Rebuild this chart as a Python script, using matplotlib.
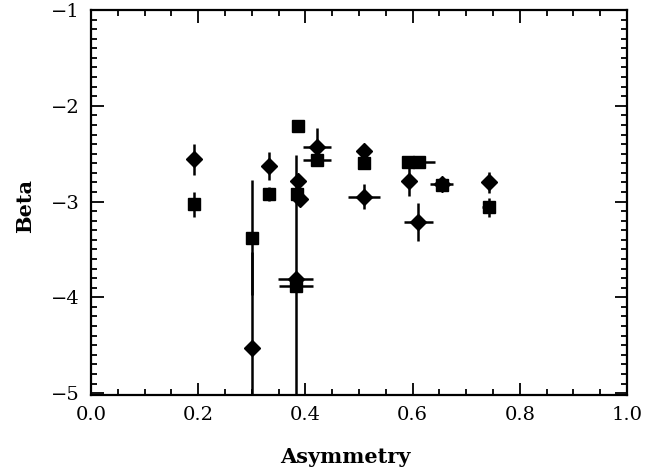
import matplotlib
matplotlib.use("Agg")
import matplotlib.pyplot as plt
from matplotlib.ticker import MultipleLocator

# Diamond series
dia_x    = [0.193, 0.332, 0.301, 0.387, 0.390, 0.382, 0.422, 0.510, 0.510, 0.593, 0.611, 0.654, 0.742]
dia_y    = [-2.56, -2.63, -4.53, -2.79, -2.97, -3.81, -2.43, -2.47, -2.95, -2.79, -3.21, -2.82, -2.80]
dia_xerr = [0.000, 0.000, 0.000, 0.000, 0.000, 0.033, 0.026, 0.000, 0.030, 0.000, 0.027, 0.022, 0.000]
dia_yerr = [0.16, 0.15, 1.00, 0.00, 0.00, 1.30, 0.20, 0.00, 0.13, 0.15, 0.20, 0.06, 0.11]

# Square series
sq_x    = [0.193, 0.332, 0.301, 0.387, 0.385, 0.382, 0.422, 0.510, 0.592, 0.612, 0.655, 0.742]
sq_y    = [-3.03, -2.92, -3.38, -2.21, -2.92, -3.88, -2.57, -2.60, -2.59, -2.59, -2.83, -3.06]
sq_xerr = [0.008, 0.010, 0.000, 0.000, 0.000, 0.032, 0.026, 0.000, 0.000, 0.030, 0.010, 0.012]
sq_yerr = [0.13, 0.07, 0.60, 0.00, 0.00, 0.00, 0.06, 0.00, 0.00, 0.00, 0.06, 0.10]

x_ticks = [0.0, 0.2, 0.4, 0.6, 0.8, 1.0]
y_ticks = [-5, -4, -3, -2, -1]

plt.rcParams['font.family'] = ['DejaVu Serif']
fig = plt.figure(figsize=(6.45, 4.71), dpi=100)
ax = fig.add_axes([91/645, 76/471, 536/645, 385/471])

ax.errorbar(dia_x, dia_y, xerr=dia_xerr, yerr=dia_yerr, fmt='D', color='black',
            markersize=8.5, elinewidth=1.8, capsize=0)
ax.errorbar(sq_x, sq_y, xerr=sq_xerr, yerr=sq_yerr, fmt='s', color='black',
            markersize=8.5, elinewidth=1.8, capsize=0)

ax.set_xlim(0, 1)
ax.set_ylim(-5.02, -1)
ax.set_xticks(x_ticks)
ax.set_xticklabels([f"{v:.1f}" for v in x_ticks])
ax.set_yticks(y_ticks)
ax.set_yticklabels(["\u2212%d" % abs(v) for v in y_ticks])
ax.xaxis.set_minor_locator(MultipleLocator(0.05))
ax.yaxis.set_minor_locator(MultipleLocator(0.1))
ax.tick_params(which='both', direction='in', top=True, right=True, width=1.3, colors='black',
               labelsize=14)
ax.tick_params(which='major', length=9, pad=8)
ax.tick_params(which='minor', length=4)
for s in ax.spines.values():
    s.set_linewidth(1.6)

ax.set_xlabel("Asymmetry", fontsize=15, fontweight='bold')
ax.set_ylabel("Beta", fontsize=15, fontweight='bold')
ax.xaxis.set_label_coords(0.474, -0.135)
ax.yaxis.set_label_coords(-0.105, 0.49)

fig.savefig("out.png", dpi=100)
